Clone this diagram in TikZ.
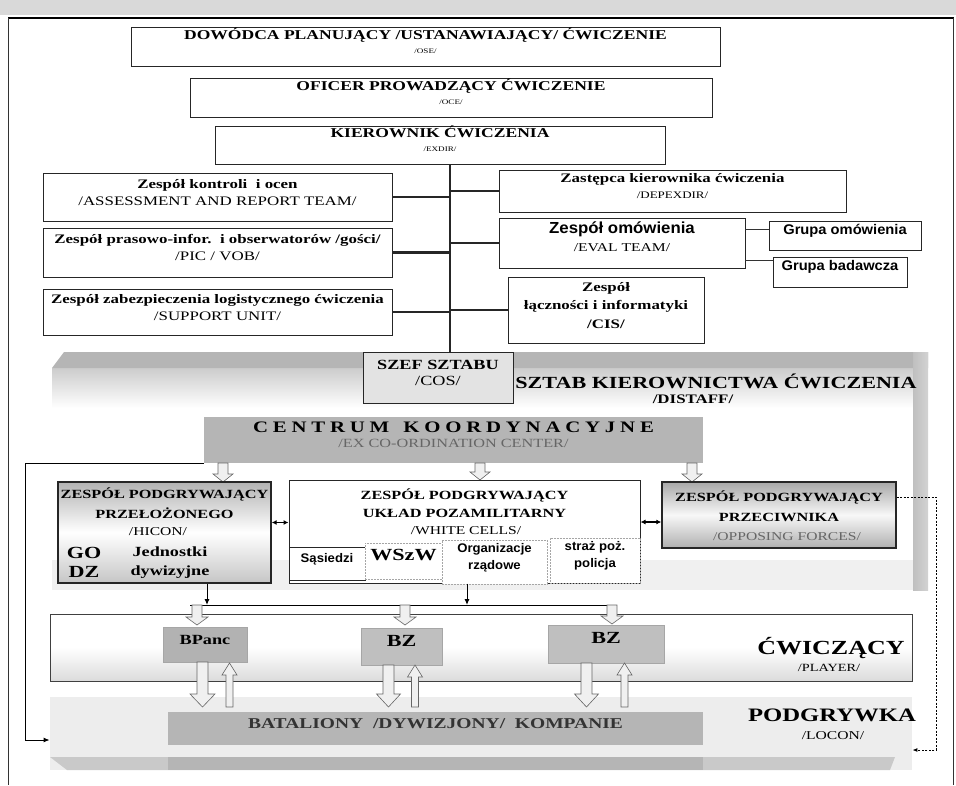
\documentclass[tikz,border=0pt]{standalone}
\usepackage{fontspec}
\setmainfont{Liberation Serif}[FakeStretch=1.3]
\newfontfamily\sansbf{Liberation Sans}[FakeStretch=1.05]
\usetikzlibrary{arrows.meta,fit}
\newcommand{\fs}[2]{\fontsize{#1}{#2}\selectfont}
\newcommand{\darr}[6]{\draw[blk] ({#1-#4},{#2}) -- ({#1+#4},{#2}) -- ({#1+#4},{#3-#6}) -- ({#1+#5},{#3-#6}) -- ({#1},{#3}) -- ({#1-#5},{#3-#6}) -- ({#1-#4},{#3-#6}) -- cycle;}
\newcommand{\uarr}[6]{\draw[blk] ({#1-#4},{#2}) -- ({#1+#4},{#2}) -- ({#1+#4},{#3+#6}) -- ({#1+#5},{#3+#6}) -- ({#1},{#3}) -- ({#1-#5},{#3+#6}) -- ({#1-#4},{#3+#6}) -- cycle;}
\tikzset{
 box/.style={draw=black!85, line width=0.8pt, fill=white, inner sep=0pt, align=center},
 conn/.style={line width=2.2pt, draw=black!85},
 tline/.style={line width=0.8pt, draw=black!80},
 blk/.style={draw=black!60, fill=gray!12, line width=0.6pt},
 arr/.style={-{Latex[length=6pt,width=5pt]}, line width=1pt},
 dbl/.style={{Latex[length=5pt,width=5pt]}-{Latex[length=5pt,width=5pt]}, line width=1.4pt},
 dsh/.style={dash pattern=on 2pt off 1.5pt, line width=0.9pt, -{Latex[length=5pt,width=4pt]}},
 sub/.style={draw=gray!70, dash pattern=on 2pt off 1pt, line width=0.8pt, fill=white, inner sep=0pt, align=center},
 lbl/.style={inner sep=0pt, align=center},
}
\begin{document}
\begin{tikzpicture}[x=1pt,y=-1pt]
\useasboundingbox (0,0) rectangle (956,785);
% top strip and frame
\fill[gray!30] (0,0) rectangle (956,15);
\draw[line width=2pt] (8,18) -- (954,18);
\draw[line width=1pt, black!80] (8,18) -- (8,785);
\draw[line width=1pt, black!80] (953,18) -- (953,785);

% DISTAFF platform
\shade[top color=gray!40, bottom color=white] (52,368) rectangle (913,408);
\fill[gray!12] (52,560) rectangle (913,590);
\fill[gray!58] (52,368) -- (64,352) -- (928,352) -- (928,368) -- cycle;
\shade[left color=gray!50, right color=gray!35] (913,352) rectangle (928,590);

% top boxes
\node[box, fit={(131,27)(720,66)}, font=\bfseries\fs{13.5}{15}] (ose) {DOWÓDCA PLANUJĄCY /USTANAWIAJĄCY/ ĆWICZENIE\\[-1pt]{\mdseries\fs{7}{8}/OSE/}};
\node[box, fit={(190,78)(712,117)}, font=\bfseries\fs{13.5}{15}] (oce) {OFICER PROWADZĄCY ĆWICZENIE\\[-1pt]{\mdseries\fs{7}{8}/OCE/}};
\node[box, fit={(215,126)(665,164)}, font=\bfseries\fs{13.5}{15}] (exdir) {KIEROWNIK ĆWICZENIA\\[-1pt]{\mdseries\fs{7}{8}/EXDIR/}};

% left boxes
\node[box, fit={(43,173)(392,221)}, font=\fs{13}{17}] (b1) {{\bfseries Zespół kontroli\ \ i ocen}\\/ASSESSMENT AND REPORT TEAM/};
\node[box, fit={(43,228)(392,277)}, font=\fs{13}{17}] (b2) {{\bfseries Zespół prasowo-infor.\ \ i obserwatorów /gości/}\\/PIC / VOB/};
\node[box, fit={(43,289)(392,335)}, font=\fs{13}{17}] (b3) {{\bfseries Zespół zabezpieczenia logistycznego ćwiczenia}\\/SUPPORT UNIT/};

% right boxes
\node[box, fit={(499,170)(846,212)}, font=\fs{13}{16}] (dep) {{\bfseries Zastępca kierownika ćwiczenia}\\{\fs{10}{12}/DEPEXDIR/}};
\node[box, fit={(499,218)(745,268)}, font=\fs{12}{18}] (eval) {{\sansbf\bfseries\fs{16}{18}Zespół omówienia}\\/EVAL TEAM/};
\node[box, fit={(769,221)(921,250)}, font=\sansbf\bfseries\fs{14}{16}] (go1) {Grupa omówienia};
\node[box, fit={(773,257)(907,287)}, font=\sansbf\bfseries\fs{14}{16}] (go2) {Grupa badawcza};
\node[box, fit={(508,277)(704,343)}, font=\bfseries\fs{13}{18.5}] (cis) {Zespół\\łączności i informatyki\\/CIS/};

% chief of staff
\node[box, fit={(363,352)(513,403)}, fill=gray!22, line width=1pt, font=\fs{14}{16}] (cos) {{\bfseries SZEF SZTABU}\\/COS/};

% trunk and branches
\coordinate (tt) at (450,164);
\draw[conn] (tt) -- (tt |- cos.north);
\draw[conn] (b1.east) -- (b1.east -| tt);
\draw[conn] (b2.east) -- (b2.east -| tt);
\draw[conn] (b3.east) -- (b3.east -| tt);
\draw[conn] (dep.west) -- (dep.west -| tt);
\draw[conn] (eval.west) -- (eval.west -| tt);
\draw[conn] (cis.west) -- (cis.west -| tt);
\draw[tline] ([yshift=6pt]go1.west) -- ([yshift=6pt]go1.west -| eval.east);
\draw[tline] ([yshift=12pt]go2.west) -- ([yshift=12pt]go2.west -| eval.east);

% DISTAFF labels
\node[lbl, font=\bfseries\fs{17}{20}] (distaff) at (716,381) {SZTAB KIEROWNICTWA ĆWICZENIA};
\node[lbl, font=\bfseries\fs{13}{15}] (distaffb) at (693,399) {/DISTAFF/};

% coordination centre
\node[box, fit={(204,417)(703,463)}, fill=gray!58, draw=none] (centrum) {{\bfseries\fs{16}{17}\addfontfeatures{LetterSpace=30}CENTRUM\hspace{14pt}KOORDYNACYJNE}\\[3pt]{\fs{12.5}{13}\color{black!60}/EX CO-ORDINATION CENTER/}};
\darr{223}{463}{482}{5}{10}{8}
\darr{480}{463}{480}{5}{10}{8}
\darr{692}{463}{482}{5}{10}{8}

% HICON
\node[box, fit={(58,482)(271,583)}, line width=1.4pt, top color=gray!60, bottom color=gray!45, middle color=white] (hicon) {};
\node[lbl, font=\bfseries\fs{12.5}{14}] (h1) at (164.5,494) {ZESPÓŁ PODGRYWAJĄCY};
\node[lbl, font=\bfseries\fs{12.5}{14}] (h2) at (164.5,513) {PRZEŁOŻONEGO};
\node[lbl, font=\fs{12}{14}] (h3) at (158,532) {/HICON/};
\node[lbl, font=\bfseries\fs{17}{18}] (hgo) at (84,553) {GO};
\node[lbl, font=\bfseries\fs{17}{18}] (hdz) at (84,572) {DZ};
\node[lbl, font=\bfseries\fs{14}{16}] (hj) at (170,552) {Jednostki};
\node[lbl, font=\bfseries\fs{14}{16}] (hd) at (170,572) {dywizyjne};

% WHITE CELLS
\node[box, fit={(289,480)(640,583)}, line width=1pt] (white) {};
\node[lbl, font=\bfseries\fs{12.5}{14}] (w1) at (464.5,495) {ZESPÓŁ PODGRYWAJĄCY};
\node[lbl, font=\bfseries\fs{12.5}{14}] (w2) at (464.5,513) {UKŁAD POZAMILITARNY};
\node[lbl, font=\fs{12}{14}] (w3) at (466,531) {/WHITE CELLS/};
\node[box, fit={(289,547)(365,580)}, font=\sansbf\bfseries\fs{12.5}{14}] (sas) {Sąsiedzi};
\node[sub, fit={(365,543)(442,579)}, font=\bfseries\fs{17}{18}] (wszw) {WSzW};
\node[sub, fit={(442,540)(547,584)}, font=\sansbf\bfseries\fs{12.5}{17}] (org) {Organizacje\\rządowe};
\node[sub, fit={(550,538)(640,583)}, font=\sansbf\bfseries\fs{12.5}{17}] (str) {straż poż.\\policja};

% OPFOR
\node[box, fit={(662,482)(896,548)}, line width=1.4pt, top color=gray!68, bottom color=gray!62, middle color=gray!6] (opfor) {};
\node[lbl, font=\bfseries\fs{12.5}{14}] (o1) at (779,497) {ZESPÓŁ PODGRYWAJĄCY};
\node[lbl, font=\bfseries\fs{12.5}{14}] (o2) at (779,517) {PRZECIWNIKA};
\node[lbl, font=\fs{12}{14}, text=black!60] (o3) at (787,537) {/OPPOSING FORCES/};

\draw[dbl] ([yshift=10pt]hicon.east) -- ([yshift=10pt]hicon.east -| white.west);
\draw[dbl] ([yshift=9.5pt]white.east) -- ([yshift=9.5pt]white.east -| opfor.west);

% bands
\node[box, fit={(50,614)(912,681)}, draw=black!75, line width=1pt, top color=white, bottom color=gray!28, middle color=white] (player) {};
\node[box, fit={(50,697)(912,770)}, draw=none, fill=gray!14] (locon) {};
\fill[gray!42] (50,757) -- (895,757) -- (890,770) -- (67,770) -- cycle;
\fill[gray!58] (168,757) rectangle (703,770);
\node[box, fit={(168,712)(703,745)}, draw=none, fill=gray!58, font=\bfseries\fs{15}{16}, text=black!80] (bat) {BATALIONY\ \ /DYWIZJONY/\ \ KOMPANIE};

\node[lbl, anchor=base, font=\bfseries\fs{20}{22}] (cw) at (831,654) {ĆWICZĄCY};
\node[lbl, anchor=base, font=\fs{11}{12}] (pl) at (829,671) {/PLAYER/};
\node[lbl, anchor=base, font=\bfseries\fs{19}{22}] (pg) at (832,721) {PODGRYWKA};
\node[lbl, anchor=base, font=\fs{12}{13}] (lo) at (833,739) {/LOCON/};

% unit boxes
\node[box, fit={(163,627)(247,662)}, draw=gray!70, fill=gray!60, font=\bfseries\fs{14}{16}] (bpanc) {BPanc};
\node[box, fit={(361,628)(442,665)}, draw=gray!70, fill=gray!50, font=\bfseries\fs{17}{18}] (bz1) {BZ};
\node[box, fit={(548,625)(664,663)}, draw=gray!70, fill=gray!50, font=\bfseries\fs{17}{18}] (bz2) {BZ};

% distribution line
\coordinate (hl) at (190,605);
\coordinate (hr) at (616,605);
\draw[line width=1pt] (hl) -- (hr);
\draw[arr] ([xshift=42.5pt]hicon.south) -- ([xshift=42.5pt]hicon.south |- hl);
\draw[arr] ([xshift=2.5pt]white.south) -- ([xshift=2.5pt]white.south |- hl);
\darr{197}{605}{625}{5}{11}{8}
\darr{405}{605}{625}{5}{11}{8}
\darr{612}{605}{624}{5}{11}{8}

% block arrows between levels
\darr{202.5}{662}{707}{5.5}{12.5}{13}
\uarr{229.5}{707}{663}{3.5}{7.5}{12}
\darr{388.5}{665}{707}{5.5}{12}{13}
\uarr{415}{707}{665}{3.5}{7.5}{12}
\darr{586.5}{663}{707}{5.5}{12}{13}
\uarr{624.5}{707}{663}{3.5}{7.5}{12}

% side connectors
\coordinate (lc) at (25,740);
\draw[arr] (centrum.south west) -| (lc) -- (lc -| locon.west);
\coordinate (dc) at (936,750);
\draw[dsh] ([yshift=18pt]opfor.east) -| (dc) -- (dc -| locon.east);
\end{tikzpicture}
\end{document}
